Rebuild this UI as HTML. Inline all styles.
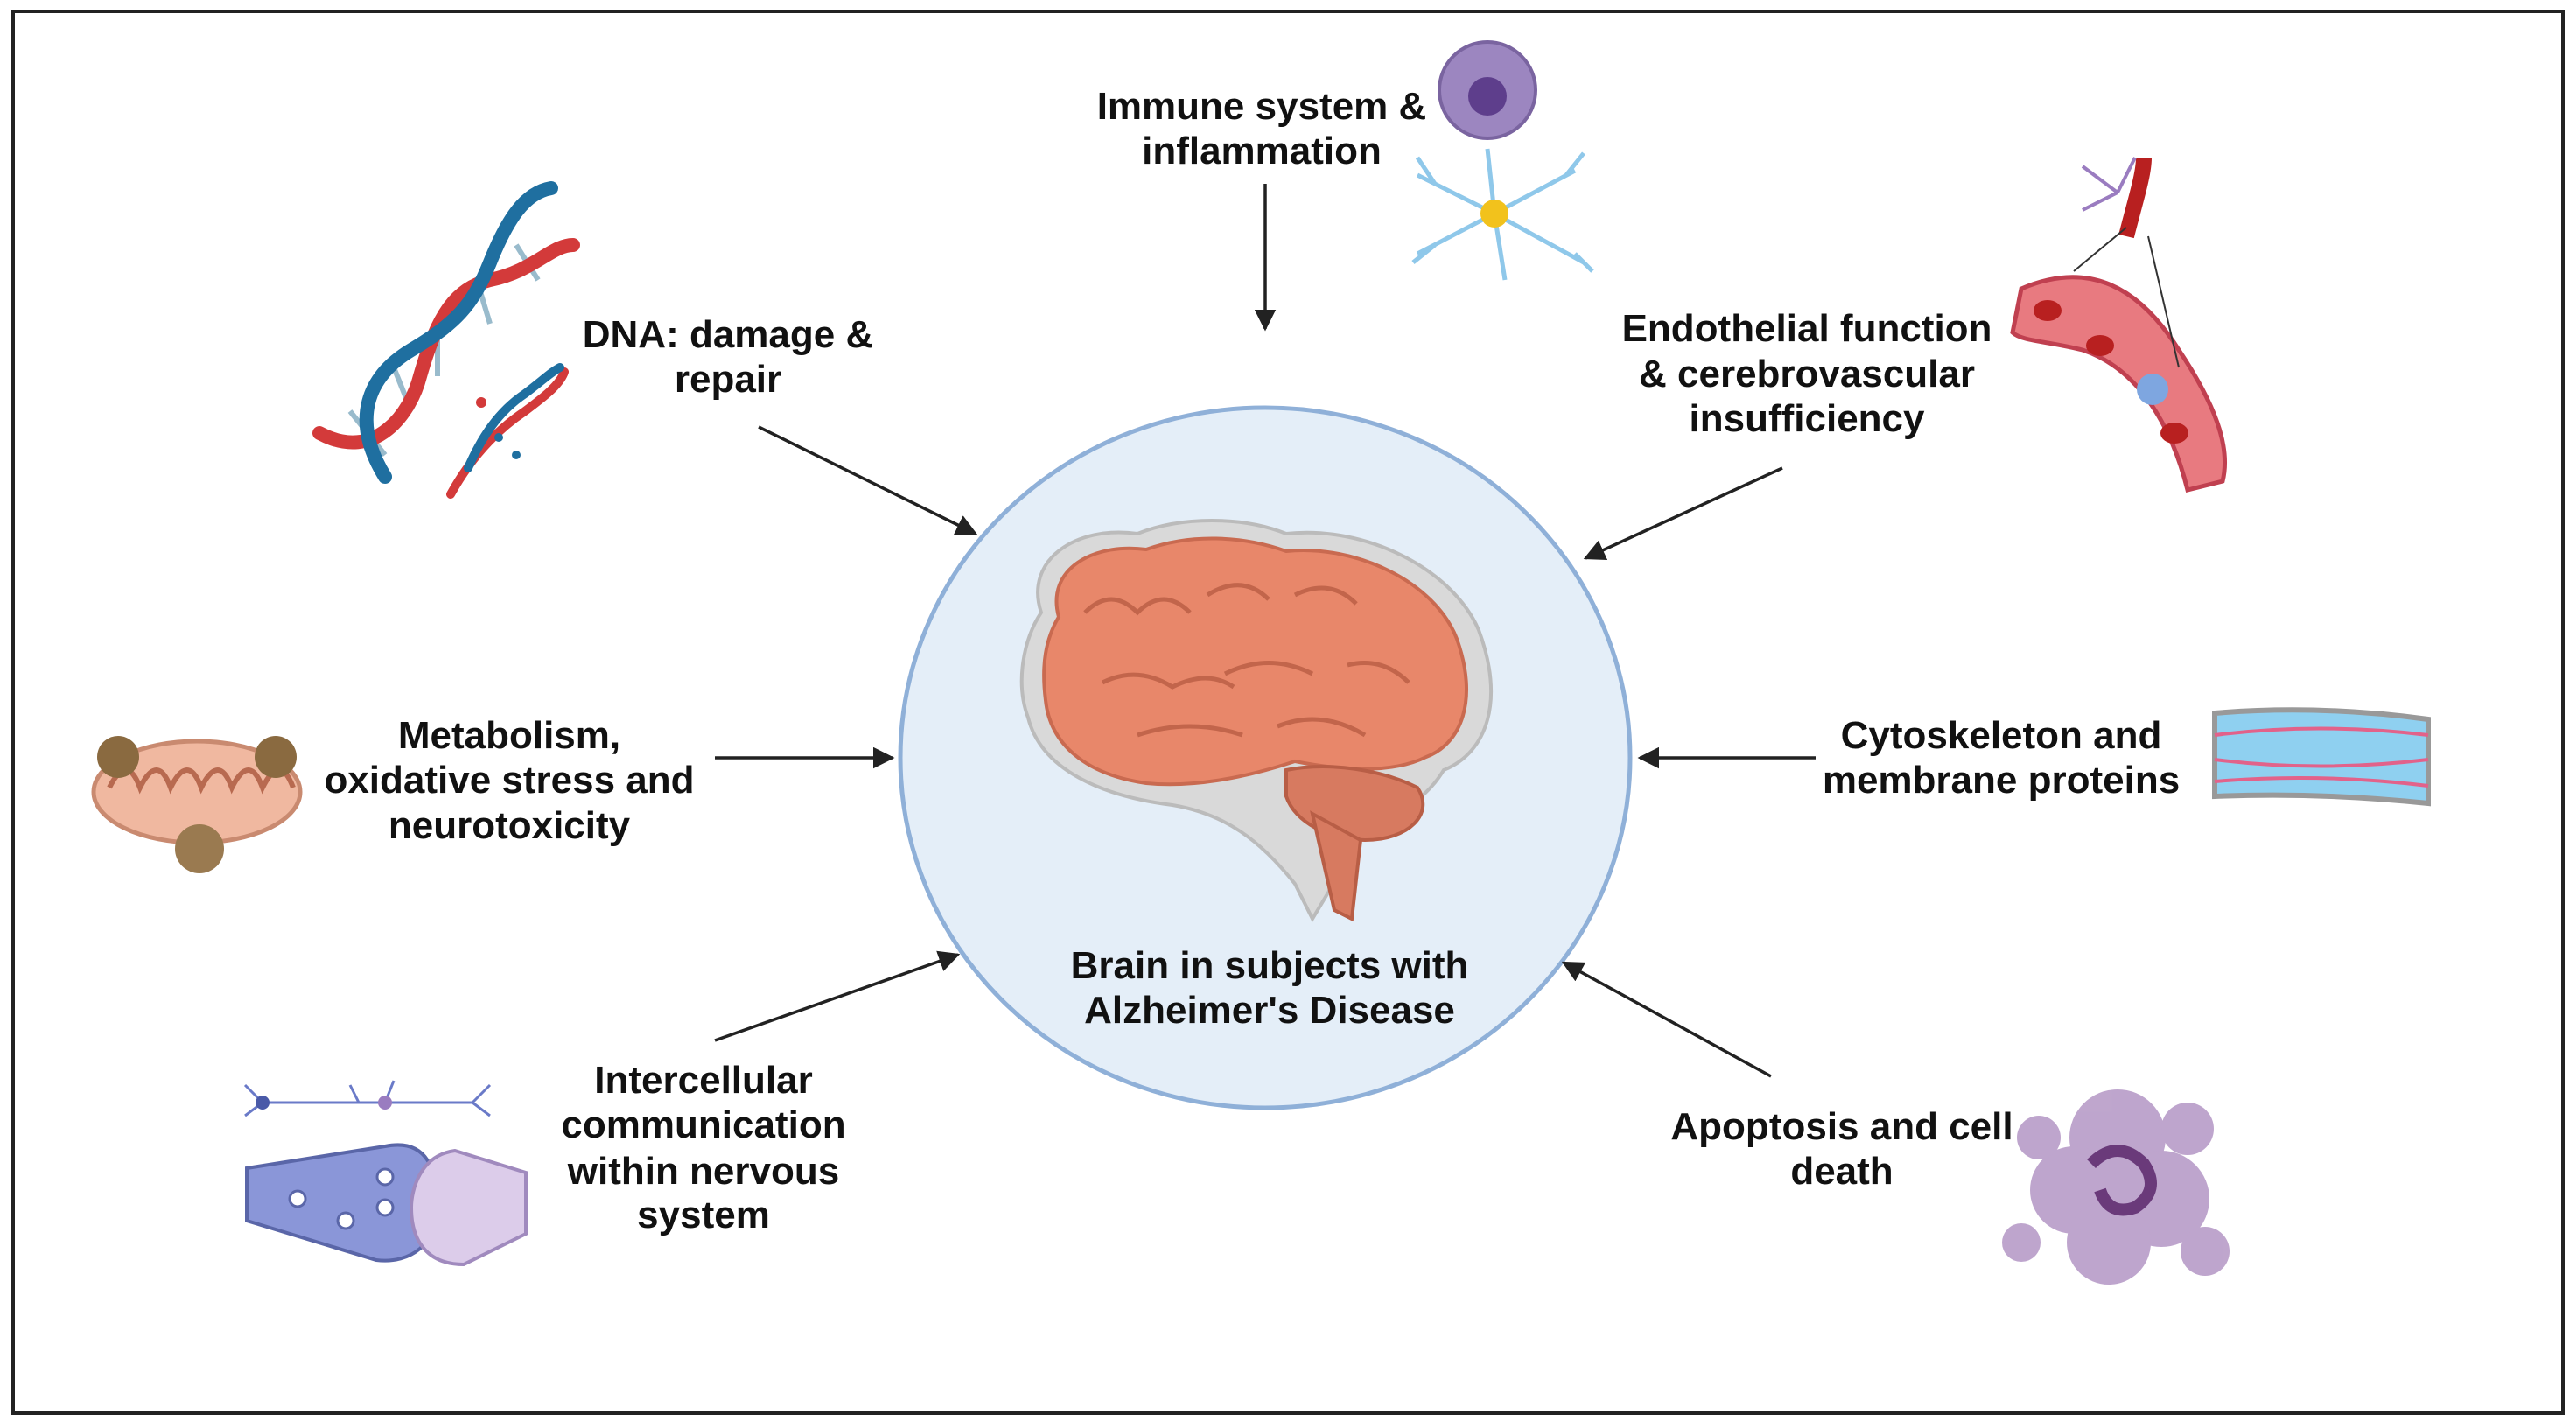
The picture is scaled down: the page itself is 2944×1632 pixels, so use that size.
<!DOCTYPE html>
<html><head><meta charset="utf-8"><style>
html,body{margin:0;padding:0;background:#fff;}
svg{display:block;}
text{font-family:"Liberation Sans",sans-serif;font-weight:bold;font-size:44px;fill:#111;text-anchor:middle;}
</style></head><body>
<svg width="2944" height="1632" viewBox="0 0 2944 1632" xmlns="http://www.w3.org/2000/svg">
<defs>
<marker id="ah" viewBox="0 0 10 10" refX="9" refY="5" markerWidth="7" markerHeight="7" orient="auto"><path d="M0,0 L10,5 L0,10 z" fill="#222"/></marker>
</defs>
<rect x="15" y="13" width="2914" height="1602" fill="#fff" stroke="#222" stroke-width="4"/>
<ellipse cx="1446" cy="866" rx="417" ry="400" fill="#E4EEF8" stroke="#8FB0D8" stroke-width="5"/>
<g>
<path d="M1190,700 C1170,640 1230,600 1300,610 C1350,590 1420,590 1470,610 C1560,600 1660,650 1690,720 C1720,800 1700,860 1650,880 C1620,930 1560,950 1520,920 L1530,1000 L1500,1050 L1480,1010 C1440,960 1400,930 1340,920 C1260,910 1190,880 1175,820 C1160,780 1170,730 1190,700 Z" fill="#D9D9D9" stroke="#BBB" stroke-width="4"/>
<path d="M1210,705 C1195,650 1250,620 1310,628 C1360,610 1420,612 1470,630 C1550,622 1640,665 1665,730 C1690,800 1670,850 1630,865 C1590,885 1530,880 1480,870 C1420,890 1360,900 1310,895 C1240,885 1200,850 1195,800 C1190,760 1195,730 1210,705 Z" fill="#E8876A" stroke="#C96A50" stroke-width="4"/>
<path d="M1470,880 C1520,870 1580,880 1620,900 C1640,930 1610,960 1560,960 C1520,960 1480,940 1470,910 Z" fill="#D77A60" stroke="#B85E46" stroke-width="4"/>
<path d="M1500,930 L1525,1040 L1545,1050 L1555,960 Z" fill="#D77A60" stroke="#B85E46" stroke-width="4"/>
<path d="M1240,700 q30,-30 60,0 q30,-30 60,0 M1380,680 q40,-25 70,5 M1480,680 q40,-20 70,10 M1260,780 q40,-20 80,5 q40,-20 70,0 M1400,770 q50,-25 100,0 M1540,760 q40,-10 70,20 M1300,840 q60,-20 120,0 M1460,830 q50,-20 100,10" fill="none" stroke="#C2654B" stroke-width="5"/>
</g>
<text x="1451" y="1118">Brain in subjects with</text>
<text x="1451" y="1169">Alzheimer's Disease</text>
<g stroke="#222" stroke-width="3.5" marker-end="url(#ah)">
<line x1="1446" y1="210" x2="1446" y2="376"/>
<line x1="867" y1="488" x2="1115" y2="610"/>
<line x1="2037" y1="535" x2="1812" y2="638"/>
<line x1="817" y1="866" x2="1020" y2="866"/>
<line x1="2075" y1="866" x2="1874" y2="866"/>
<line x1="817" y1="1189" x2="1095" y2="1091"/>
<line x1="2024" y1="1230" x2="1787" y2="1100"/>
</g>
<text x="1442" y="136">Immune system &amp;</text>
<text x="1442" y="187">inflammation</text>
<text x="832" y="397">DNA: damage &amp;</text>
<text x="832" y="448">repair</text>
<text x="2065" y="390">Endothelial function</text>
<text x="2065" y="442">&amp; cerebrovascular</text>
<text x="2065" y="493">insufficiency</text>
<text x="582" y="855">Metabolism,</text>
<text x="582" y="906">oxidative stress and</text>
<text x="582" y="958">neurotoxicity</text>
<text x="2287" y="855">Cytoskeleton and</text>
<text x="2287" y="906">membrane proteins</text>
<text x="804" y="1249">Intercellular</text>
<text x="804" y="1300">communication</text>
<text x="804" y="1353">within nervous</text>
<text x="804" y="1403">system</text>
<text x="2105" y="1302">Apoptosis and cell</text>
<text x="2105" y="1353">death</text>
<!-- DNA icon helix -->
<g stroke="#9BC" stroke-width="6">
<line x1="400" y1="470" x2="440" y2="520"/><line x1="450" y1="420" x2="470" y2="470"/><line x1="500" y1="380" x2="500" y2="430"/><line x1="545" y1="320" x2="560" y2="370"/><line x1="590" y1="280" x2="615" y2="320"/>
</g>
<g fill="none" stroke-width="16" stroke-linecap="round">
<path d="M365,495 C430,530 470,470 480,430 C500,360 520,330 560,320 C610,310 630,280 655,280" stroke="#D33A3A"/>
<path d="M440,545 C400,480 420,430 470,400 C520,370 540,350 560,300 C580,250 600,220 630,215" stroke="#1F6FA0"/>
<path d="M515,565 C540,520 570,490 600,470 C620,455 640,440 645,425" stroke="#D33A3A" stroke-width="10"/>
<path d="M535,535 C550,500 570,470 600,450 C620,435 630,425 640,420" stroke="#1F6FA0" stroke-width="10"/>
</g>
<circle cx="550" cy="460" r="6" fill="#D33A3A"/><circle cx="570" cy="500" r="5" fill="#1F6FA0"/><circle cx="590" cy="520" r="5" fill="#1F6FA0"/>
<circle cx="1700" cy="103" r="55" fill="#9C86C0" stroke="#7A64A0" stroke-width="4"/>
<circle cx="1700" cy="110" r="22" fill="#5E3E8C"/>
<g stroke="#8FC8EA" stroke-width="5" fill="none">
<path d="M1708,244 L1620,200 M1708,244 L1620,290 M1708,244 L1800,195 M1708,244 L1810,300 M1708,244 L1700,170 M1708,244 L1720,320 M1640,210 l-20,-30 M1790,200 l20,-25 M1640,280 l-25,20 M1800,290 l20,20"/>
</g>
<circle cx="1708" cy="244" r="16" fill="#F2C21C"/>
<path d="M2310,330 C2380,300 2440,320 2490,400 C2530,460 2550,510 2540,550 L2500,560 C2480,480 2440,420 2380,400 C2340,390 2310,390 2300,380 Z" fill="#E87A80" stroke="#C04050" stroke-width="5"/>
<ellipse cx="2340" cy="355" rx="16" ry="12" fill="#B82020"/><ellipse cx="2400" cy="395" rx="16" ry="12" fill="#B82020"/><ellipse cx="2485" cy="495" rx="16" ry="12" fill="#B82020"/>
<circle cx="2460" cy="445" r="18" fill="#7EA6E0"/>
<path d="M2430,270 C2440,230 2450,200 2450,180" stroke="#B82020" stroke-width="18" fill="none"/>
<line x1="2370" y1="310" x2="2430" y2="260" stroke="#333" stroke-width="2"/><line x1="2490" y1="420" x2="2455" y2="270" stroke="#333" stroke-width="2"/>
<g stroke="#9A7CC0" stroke-width="4"><path d="M2420,220 l-40,-30 M2420,220 l-40,20 M2420,220 l20,-40"/></g>
<ellipse cx="225" cy="905" rx="118" ry="58" fill="#F0B8A0" stroke="#C98A70" stroke-width="5"/>
<path d="M125,900 q20,-40 35,0 q20,-40 35,0 q20,-40 35,0 q20,-40 35,0 q20,-40 35,0 q20,-40 35,0" fill="none" stroke="#B86A50" stroke-width="6"/>
<circle cx="135" cy="865" r="24" fill="#8A6A40"/><circle cx="315" cy="865" r="24" fill="#8A6A40"/>
<circle cx="228" cy="970" r="28" fill="#9A7A50"/>
<path d="M2531,815 Q2650,805 2775,822 L2775,918 Q2650,905 2531,910 Z" fill="#8FD0F0" stroke="#999" stroke-width="6"/>
<g stroke="#E2628A" stroke-width="4" fill="none"><path d="M2531,840 q120,-15 244,0 M2531,868 q120,15 244,0 M2531,893 q120,-10 244,5"/></g>
<path d="M282,1335 L440,1310 C490,1300 500,1340 500,1380 C500,1420 470,1445 430,1440 L282,1395 Z" fill="#8A96D8" stroke="#5A66A8" stroke-width="4"/>
<path d="M601,1340 L520,1315 C480,1320 470,1360 470,1380 C470,1420 490,1445 530,1445 L601,1410 Z" fill="#DCCCEA" stroke="#A08ABE" stroke-width="4"/>
<g fill="#fff" stroke="#5A66A8" stroke-width="3"><circle cx="340" cy="1370" r="9"/><circle cx="395" cy="1395" r="9"/><circle cx="440" cy="1345" r="9"/><circle cx="440" cy="1380" r="9"/></g>
<g stroke="#6A7AC8" stroke-width="3" fill="none"><path d="M300,1260 L540,1260 M300,1260 l-20,-20 M300,1260 l-20,15 M410,1260 l-10,-20 M440,1260 l10,-25 M540,1260 l20,-20 M540,1260 l20,15"/></g>
<circle cx="300" cy="1260" r="8" fill="#4A5AA8"/><circle cx="440" cy="1260" r="8" fill="#9A7CC0"/>
<g fill="#B89CC8" opacity="0.9">
<circle cx="2420" cy="1300" r="55"/><circle cx="2370" cy="1360" r="50"/><circle cx="2470" cy="1370" r="55"/><circle cx="2410" cy="1420" r="48"/><circle cx="2500" cy="1290" r="30"/><circle cx="2330" cy="1300" r="25"/><circle cx="2520" cy="1430" r="28"/><circle cx="2310" cy="1420" r="22"/>
</g>
<path d="M2390,1330 q30,-30 60,0 q20,30 -10,50 q-30,10 -40,-20" fill="none" stroke="#6A3A7A" stroke-width="14"/>
</svg>
</body></html>
